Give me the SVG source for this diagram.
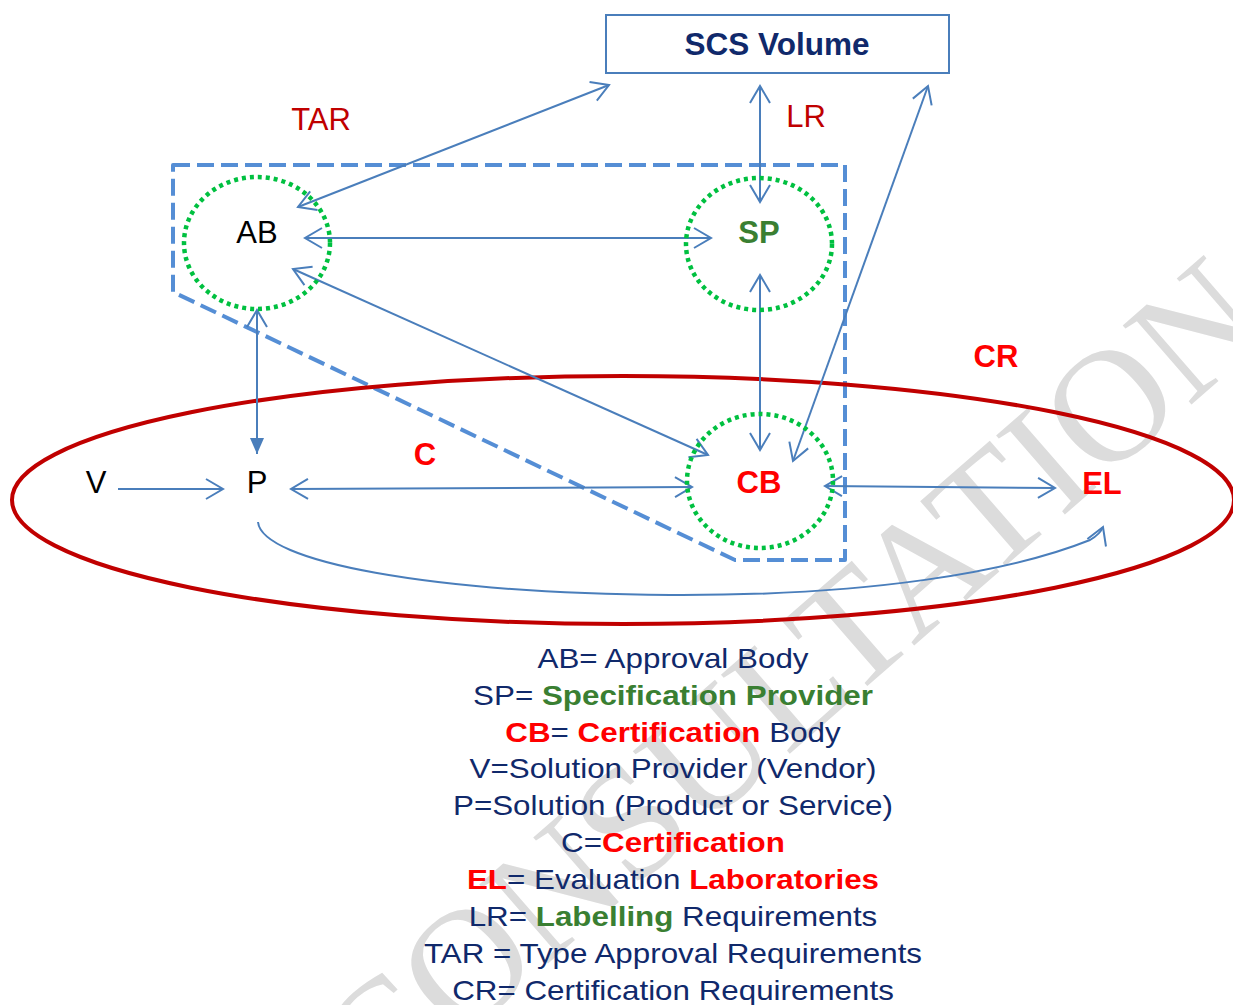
<svg xmlns="http://www.w3.org/2000/svg" width="1233" height="1005" viewBox="0 0 1233 1005">
<style>
  text { font-family: "Liberation Sans", Arial, sans-serif; }
  text.wm { font-family: "Liberation Serif", "Times New Roman", serif; font-size: 160px; fill: #dcdcdc; text-anchor: middle; }
  .lbl { font-size: 31px; text-anchor: middle; }
  .b { font-weight: bold; }
  .dark { fill: #c00000; }
  .red { fill: #ff0000; }
  .grn { fill: #3a7f32; }
  .navy { fill: #10296b; }
  .conn { fill: none; stroke: #4a7ebb; stroke-width: 2; }
  .dbl { marker-start: url(#open); marker-end: url(#open); }
  .one { marker-end: url(#open); }
  .circ { fill: none; stroke: #00c040; stroke-width: 4.5; stroke-dasharray: 4 4; }
  .leg { font-size: 28px; text-anchor: middle; }
</style>
<defs>
  <marker id="open" viewBox="-20 -12 24 24" markerWidth="24" markerHeight="24" refX="0" refY="0" orient="auto-start-reverse" markerUnits="userSpaceOnUse">
    <path d="M-17,-10 L0,0 L-17,10" fill="none" stroke="#4a7ebb" stroke-width="2"/>
  </marker>
  <marker id="fill" viewBox="-18 -9 20 18" markerWidth="20" markerHeight="18" refX="0" refY="0" orient="auto" markerUnits="userSpaceOnUse">
    <path d="M-16,-7 L0,0 L-16,7 Z" fill="#4a7ebb"/>
  </marker>
</defs>
<rect width="1233" height="1005" fill="#ffffff"/>

<g id="watermark">
  <text class="wm" x="826" y="722" transform="rotate(-41 826 722)">CONSULTATION</text>
</g>

<g id="scope-box">
  <path d="M173,165 L845,165 L845,560 L735,560 L173,292 Z" fill="none" stroke="#558ed5" stroke-width="4" stroke-dasharray="17 7" stroke-linejoin="round"/>
</g>

<g id="cr-ellipse">
  <ellipse cx="623" cy="500" rx="611" ry="124" fill="none" stroke="#c00000" stroke-width="4"/>
</g>

<g id="connectors">
  <line class="conn dbl" x1="298" y1="207" x2="609" y2="85"/>
  <line class="conn dbl" x1="760" y1="86" x2="760" y2="202"/>
  <line class="conn dbl" x1="928" y1="86" x2="793" y2="461"/>
  <line class="conn dbl" x1="305" y1="238" x2="711" y2="238"/>
  <line class="conn dbl" x1="293" y1="269" x2="708" y2="455"/>
  <line class="conn dbl" x1="760" y1="275" x2="760" y2="450"/>
  <line class="conn" x1="257" y1="310" x2="257" y2="454" marker-start="url(#open)" marker-end="url(#fill)"/>
  <line class="conn one" x1="118" y1="489" x2="223" y2="489"/>
  <line class="conn dbl" x1="291" y1="489" x2="692" y2="487"/>
  <line class="conn dbl" x1="825" y1="486" x2="1055" y2="488"/>
  <path class="conn one" d="M258,522 C262,562 430,593 670,595 C870,596 1010,572 1090,540 C1097,536 1101,532 1103,527"/>
</g>

<g id="scs-volume">
  <rect x="606" y="15" width="343" height="58" fill="#ffffff" stroke="#4a7ebb" stroke-width="2"/>
  <text x="777" y="55" class="b navy" font-size="31.5" text-anchor="middle">SCS Volume</text>
</g>

<g id="node-ab">
  <ellipse class="circ" cx="257" cy="243" rx="73" ry="66"/>
  <text x="257" y="243" class="lbl" fill="#000000">AB</text>
</g>
<g id="node-sp">
  <ellipse class="circ" cx="759" cy="244" rx="73" ry="66"/>
  <text x="759" y="243" class="lbl b grn">SP</text>
</g>
<g id="node-cb">
  <ellipse class="circ" cx="760" cy="481" rx="73" ry="67"/>
  <text x="759" y="493" class="lbl b red">CB</text>
</g>
<g id="node-v"><text x="96" y="493" class="lbl" fill="#000000">V</text></g>
<g id="node-p"><text x="257" y="493" class="lbl" fill="#000000">P</text></g>
<g id="node-el"><text x="1102" y="494" class="lbl b red">EL</text></g>

<g id="labels">
  <text x="321" y="130" class="lbl dark">TAR</text>
  <text x="806" y="127" class="lbl dark">LR</text>
  <text x="996" y="367" class="lbl b red">CR</text>
  <text x="425" y="465" class="lbl b red">C</text>
</g>

<g id="legend" transform="translate(673 0) scale(1.12 1) translate(-673 0)">
  <text x="673" y="668" class="leg navy">AB= Approval Body</text>
  <text x="673" y="705" class="leg navy">SP= <tspan class="b grn">Specification Provider</tspan></text>
  <text x="673" y="742" class="leg navy"><tspan class="b red">CB</tspan>= <tspan class="b red">Certification</tspan> Body</text>
  <text x="673" y="778" class="leg navy">V=Solution Provider (Vendor)</text>
  <text x="673" y="815" class="leg navy">P=Solution (Product or Service)</text>
  <text x="673" y="852" class="leg navy">C=<tspan class="b red">Certification</tspan></text>
  <text x="673" y="889" class="leg navy"><tspan class="b red">EL</tspan>= Evaluation <tspan class="b red">Laboratories</tspan></text>
  <text x="673" y="926" class="leg navy">LR= <tspan class="b grn">Labelling</tspan> Requirements</text>
  <text x="673" y="963" class="leg navy">TAR = Type Approval Requirements</text>
  <text x="673" y="1000" class="leg navy">CR= Certification Requirements</text>
</g>
</svg>
